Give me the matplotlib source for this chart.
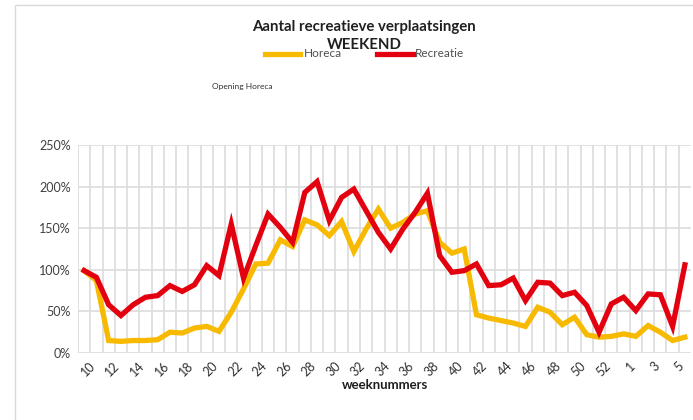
import matplotlib
matplotlib.use("Agg")
import matplotlib.pyplot as plt
import matplotlib.transforms as mtrans
from matplotlib.patches import Rectangle
import numpy as np

weeks = [10, 11, 12, 13, 14, 15, 16, 17, 18, 19, 20, 21, 22, 23, 24, 25, 26, 27, 28, 29,
         30, 31, 32, 33, 34, 35, 36, 37, 38, 39, 40, 41, 42, 43, 44, 45, 46, 47, 48, 49,
         50, 51, 52, 53, 1, 2, 3, 4, 5, 6]

horeca = [99, 87, 15, 14, 15, 15, 16, 25, 24, 30, 32, 26, 49, 77, 107, 108, 136, 128, 160, 154,
          141, 158, 122, 149, 173, 150, 157, 167, 171, 133, 120, 125, 46, 42, 39, 36, 32, 55, 49, 34,
          43, 22, 19, 20, 23, 20, 33, 25, 15, 19]

recreatie = [99, 91, 58, 45, 58, 67, 69, 81, 74, 82, 105, 93, 155, 90, 129, 167, 151, 133, 193, 206,
             159, 187, 197, 171, 145, 125, 149, 169, 192, 117, 97, 99, 107, 81, 82, 90, 63, 85, 84, 69,
             73, 57, 25, 59, 67, 51, 71, 70, 32, 106]

title = "Aantal recreatieve verplaatsingen"
subtitle = "WEEKEND"
xlabel = "weeknummers"
annotation = "Opening Horeca"
yticks = [0, 50, 100, 150, 200, 250]

FONT = "Lato"
plt.rcParams['font.family'] = [FONT, 'DejaVu Sans']

W, H = 693, 420
fig = plt.figure(figsize=(W / 100, H / 100), dpi=100)

# chart border
fig.patches.append(Rectangle((15 / W, -0.05), 1.1, 1 - 5 / H + 0.05, transform=fig.transFigure,
                             fill=False, edgecolor='#D9D9D9', linewidth=1.0))

left, right, top, bottom = 78, 691, 145, 353
ax = fig.add_axes([left / W, 1 - bottom / H, (right - left) / W, (bottom - top) / H])

x = np.arange(len(weeks))
c_hor = '#F7BA00'
c_rec = '#E3000F'
ax.plot(x, horeca, color=c_hor, lw=3.8, solid_joinstyle='miter', zorder=3)
ax.plot(x, recreatie, color=c_rec, lw=3.8, solid_joinstyle='miter', zorder=4)

ax.set_xlim(-0.5, len(weeks) - 0.5)
ax.set_ylim(0, 250)

grid_c = '#DCDCDC'
for yv in yticks:
    ax.axhline(yv, color=grid_c, lw=1.2, zorder=1)
for b in np.arange(0.5, len(weeks) - 0.5, 1.0):
    ax.axvline(b, color=grid_c, lw=1.2, zorder=1)
ax.axvline(-0.5, color=grid_c, lw=1.2, zorder=1)

for s in ax.spines.values():
    s.set_visible(False)

ax.set_yticks(yticks)
ax.set_yticklabels([f"{v}%" for v in yticks], fontsize=9, color='#404040')
ax.set_xticks(x[::2])
ax.set_xticklabels([str(w) for w in weeks[::2]], fontsize=9, color='#303030',
                   rotation=45, ha='right', va='top', rotation_mode='anchor')
ax.tick_params(length=0, pad=5)
ax.tick_params(axis='x', pad=5)
off = mtrans.ScaledTranslation(5 / 100, 0, fig.dpi_scale_trans)
for lab in ax.get_xticklabels():
    lab.set_transform(lab.get_transform() + off)

ax.set_xlabel(xlabel, fontsize=9.5, fontweight='bold', color='#202020', labelpad=0)

fig.text(364 / W, 1 - 27 / H, title, ha='center', va='center', fontsize=10.8,
         fontweight='bold', color='#202020')
fig.text(364 / W, 1 - 45 / H, subtitle, ha='center', va='center', fontsize=10.8,
         fontweight='bold', color='#202020', zorder=5)

# legend
ly = 1 - 53.5 / H
fig.lines.append(plt.Line2D([265 / W, 300 / W], [ly, ly], color=c_hor, lw=3.8,
                            transform=fig.transFigure))
fig.text(304 / W, ly, "Horeca", ha='left', va='center', fontsize=8.5, color='#505050')
fig.lines.append(plt.Line2D([377 / W, 413 / W], [ly, ly], color=c_rec, lw=3.8,
                            transform=fig.transFigure))
fig.text(415 / W, ly, "Recreatie", ha='left', va='center', fontsize=8.5, color='#505050')

fig.text(212 / W, 1 - 86 / H, annotation, ha='left', va='center', fontsize=6,
         color='#303030')

fig.savefig("out.png", dpi=100)
